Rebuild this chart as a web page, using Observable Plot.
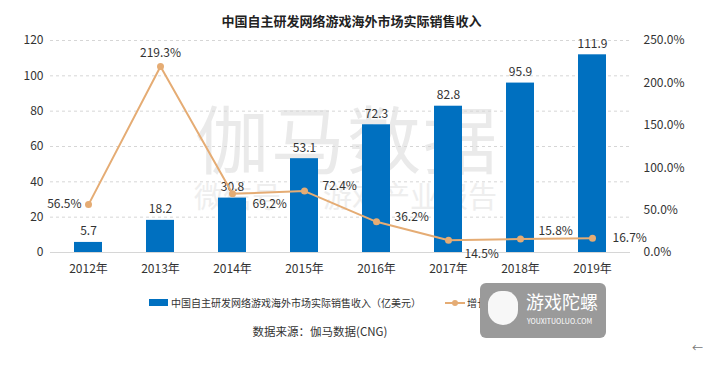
<!DOCTYPE html>
<html><head><meta charset="utf-8">
<script src="https://cdn.jsdelivr.net/npm/d3@7"></script>
<script src="https://cdn.jsdelivr.net/npm/@observablehq/plot@0.6"></script>
<style>
body{margin:0;background:#fff;font-family:"Noto Sans CJK SC","Noto Sans",sans-serif;}
#wrap{position:relative;width:703px;height:370px;overflow:hidden;}
.abs{position:absolute;}
#title{top:11px;left:0;width:703px;text-align:center;font-weight:bold;font-size:13px;color:#222;}
#wm1{left:195px;top:82px;font-size:74px;color:#eaeaea;letter-spacing:2px;}
#wm2{left:194px;top:174px;font-size:29px;color:#eeeeee;}
.chart{left:0;top:30px;}
#legend{top:295px;left:0;width:703px;font-size:10px;color:#333;}
#source{top:323px;left:0;width:640px;text-align:center;font-size:11.5px;color:#333;}
#logo{left:480px;top:283px;width:126px;height:55px;background:#9a9a9a;border-radius:6px;color:#fff;}
</style></head>
<body>
<div id="wrap">
  <div id="wm1" class="abs">伽马数据</div>
  <div id="wm2" class="abs">微信号 · 游戏产业报告</div>
  <div id="title" class="abs">中国自主研发网络游戏海外市场实际销售收入</div>
  <div id="c1" class="abs chart"></div>
  <div id="c2" class="abs chart"></div>
  <div id="legend" class="abs">
    <span class="abs" style="left:149px;top:4px;width:19px;height:7px;background:#0070C0"></span>
    <span class="abs" style="left:171px;top:0">中国自主研发网络游戏海外市场实际销售收入（亿美元）</span>
    <span class="abs" style="left:445px;top:7px;width:20px;height:2px;background:#E5AC74"></span>
    <span class="abs" style="left:452px;top:5px;width:6px;height:6px;border-radius:3px;background:#E5AC74"></span>
    <span class="abs" style="left:467px;top:0">增长率</span>
  </div>
  <div id="source" class="abs">数据来源：伽马数据(CNG)</div>
  <div id="logo" class="abs">
    <div class="abs" style="left:8px;top:8px;width:30px;height:34px;border-radius:15px 15px 17px 17px;background:#fff;opacity:0.92"></div>
    <div class="abs" style="left:46px;top:5px;font-size:18px;">游戏陀螺</div>
    <div class="abs" style="left:47px;top:33px;font-size:7px;">YOUXITUOLUO.COM</div>
  </div>
  <div class="abs" style="left:692px;top:339px;font-size:11px;color:#777">←</div>
</div>
<script>
const years = ["2012年","2013年","2014年","2015年","2016年","2017年","2018年","2019年"];
const revenue = [5.7, 18.2, 30.8, 53.1, 72.3, 82.8, 95.9, 111.9];
const growth = [56.5, 219.3, 69.2, 72.4, 36.2, 14.5, 15.8, 16.7];
const leftTicks = [0, 20, 40, 60, 80, 100, 120];
const rightTicks = [0, 50, 100, 150, 200, 250];

const rows = years.map((y, i) => ({year: y, rev: revenue[i], g: growth[i]}));
const font = '"Noto Sans CJK SC","Noto Sans",sans-serif';
const BLUE = "#0070C0", ORANGE = "#E5AC74";
const common = {width: 703, height: 250, marginTop: 10, marginBottom: 28, marginLeft: 50, marginRight: 73,
  style: {fontFamily: font, fontSize: "12px", color: "#333", background: "transparent", overflow: "visible"}};
const xScale = {domain: years, paddingInner: 0.61, paddingOuter: 0.305, label: null};

const c1 = Plot.plot({
  ...common,
  x: xScale,
  y: {domain: [0, 120], label: null},
  marks: [
    Plot.ruleY(leftTicks.filter(d => d > 0), {stroke: "#d6d6d6", strokeDasharray: "3,3"}),
    Plot.ruleY([0], {stroke: "#d6d6d6"}),
    Plot.barY(rows, {x: "year", y: "rev", fill: BLUE}),
    Plot.text(rows, {x: "year", y: "rev", text: d => d.rev.toFixed(1), dy: -11, fill: "#333", fontSize: 12}),
    Plot.axisY({ticks: leftTicks, tickSize: 0, tickPadding: 7, label: null, fontSize: 12}),
    Plot.axisX({tickSize: 0, tickPadding: 12, label: null, fontSize: 12})
  ]
});
document.getElementById("c1").append(c1);

const sel = ys => rows.filter(r => ys.includes(r.year));
const fmt = d => d.g.toFixed(1) + "%";
const c2 = Plot.plot({
  ...common,
  x: {...xScale, axis: null},
  y: {domain: [0, 250], label: null},
  marks: [
    Plot.line(rows, {x: "year", y: "g", stroke: ORANGE, strokeWidth: 2}),
    Plot.dot(rows, {x: "year", y: "g", fill: ORANGE, r: 3.5}),
    Plot.text(sel(["2012年"]), {x: "year", y: "g", text: fmt, textAnchor: "end", dx: -7, fill: "#333"}),
    Plot.text(sel(["2013年"]), {x: "year", y: "g", text: fmt, dy: -13, fill: "#333"}),
    Plot.text(sel(["2014年"]), {x: "year", y: "g", text: fmt, textAnchor: "start", dx: 20, dy: 10, fill: "#333"}),
    Plot.text(sel(["2015年"]), {x: "year", y: "g", text: fmt, textAnchor: "start", dx: 18, dy: -5, fill: "#333"}),
    Plot.text(sel(["2016年"]), {x: "year", y: "g", text: fmt, textAnchor: "start", dx: 18, dy: -5, fill: "#333"}),
    Plot.text(sel(["2017年"]), {x: "year", y: "g", text: fmt, textAnchor: "start", dx: 16, dy: 14, fill: "#333"}),
    Plot.text(sel(["2018年"]), {x: "year", y: "g", text: fmt, textAnchor: "start", dx: 18, dy: -8, fill: "#333"}),
    Plot.text(sel(["2019年"]), {x: "year", y: "g", text: fmt, textAnchor: "start", dx: 20, dy: 0, fill: "#333"}),
    Plot.axisY({anchor: "right", ticks: rightTicks, tickSize: 0, tickPadding: 13, label: null,
      tickFormat: d => d.toFixed(1) + "%", fontSize: 12})
  ]
});
document.getElementById("c2").append(c2);
</script>
</body></html>
